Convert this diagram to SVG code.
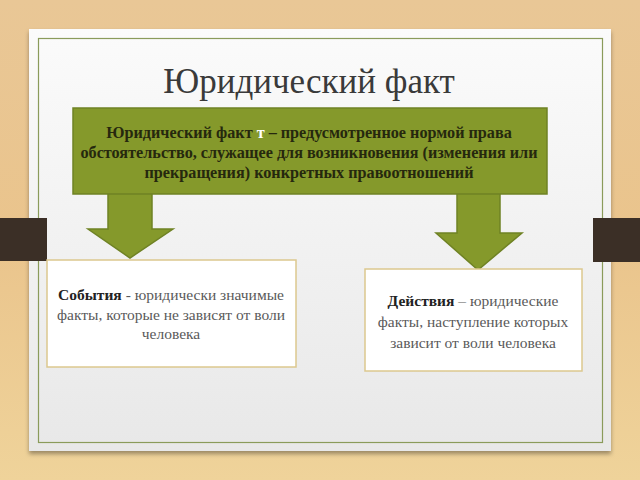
<svg xmlns="http://www.w3.org/2000/svg" width="640" height="480" viewBox="0 0 640 480">
<defs>
<linearGradient id="wood" x1="0" y1="0" x2="0" y2="1">
<stop offset="0" stop-color="#e9c796"/>
<stop offset="0.5" stop-color="#eac48c"/>
<stop offset="1" stop-color="#efd39a"/>
</linearGradient>
<linearGradient id="card" x1="0" y1="0" x2="0" y2="1">
<stop offset="0" stop-color="#fbfbfb"/>
<stop offset="1" stop-color="#e8e8e8"/>
</linearGradient>
<filter id="sh" x="-5%" y="-5%" width="110%" height="115%">
<feDropShadow dx="0" dy="3" stdDeviation="2" flood-color="#000" flood-opacity="0.35"/>
</filter>
</defs>
<style>
.green{fill:#85992b;stroke:#6f8224;stroke-width:1.5}
.tab{fill:#3b2f26}
.box{fill:#ffffff;stroke:#dcc88e;stroke-width:1.5}
.title{font-family:"Liberation Serif","DejaVu Serif",serif;font-size:35px;fill:#3a3a3a;text-anchor:middle}
.gt{font-family:"Liberation Serif","DejaVu Serif",serif;font-size:16.2px;font-weight:bold;fill:#26280e;text-anchor:middle}
.bt{font-family:"Liberation Serif","DejaVu Serif",serif;font-size:15.5px;fill:#5a5a5a;text-anchor:middle}
.b{font-weight:bold;fill:#222}
</style>
<rect x="0" y="0" width="640" height="480" fill="url(#wood)"/>
<g id="slide">
<rect x="29" y="29" width="582" height="422" fill="url(#card)" filter="url(#sh)"/>
<rect x="38.5" y="38.5" width="564" height="404" fill="none" stroke="#8a9b5a" stroke-width="1.2"/>
</g>
<g id="tabs">
<rect class="tab" x="0" y="218" width="47" height="43"/>
<rect class="tab" x="593" y="218" width="47" height="44"/>
</g>
<g id="title"><text class="title" x="309" y="93">Юридический факт</text></g>
<g id="connectors">
<polygon class="green" points="108,193 152,193 152,229 173,229 130,258 88,229 108,229"/>
<polygon class="green" points="457,193 500,193 500,233 522,233 478,270 436,233 457,233"/>
</g>
<g id="definition">
<rect class="green" x="73" y="108" width="474" height="86"/>
<text class="gt" x="309" y="138">Юридический факт <tspan fill="#ffffff">т</tspan> – предусмотренное нормой права</text>
<text class="gt" x="309" y="158">обстоятельство, служащее для возникновения (изменения или</text>
<text class="gt" x="309" y="178">прекращения) конкретных правоотношений</text>
</g>
<g id="events">
<rect class="box" x="47" y="260" width="249" height="107"/>
<text class="bt" x="171" y="300"><tspan class="b">События</tspan> - юридически значимые</text>
<text class="bt" x="171" y="320">факты, которые не зависят от воли</text>
<text class="bt" x="171" y="339">человека</text>
</g>
<g id="actions">
<rect class="box" x="365" y="269" width="217" height="102"/>
<text class="bt" x="473" y="306"><tspan class="b">Действия</tspan> – юридические</text>
<text class="bt" x="473" y="327">факты, наступление которых</text>
<text class="bt" x="473" y="348">зависит от воли человека</text>
</g>
</svg>
